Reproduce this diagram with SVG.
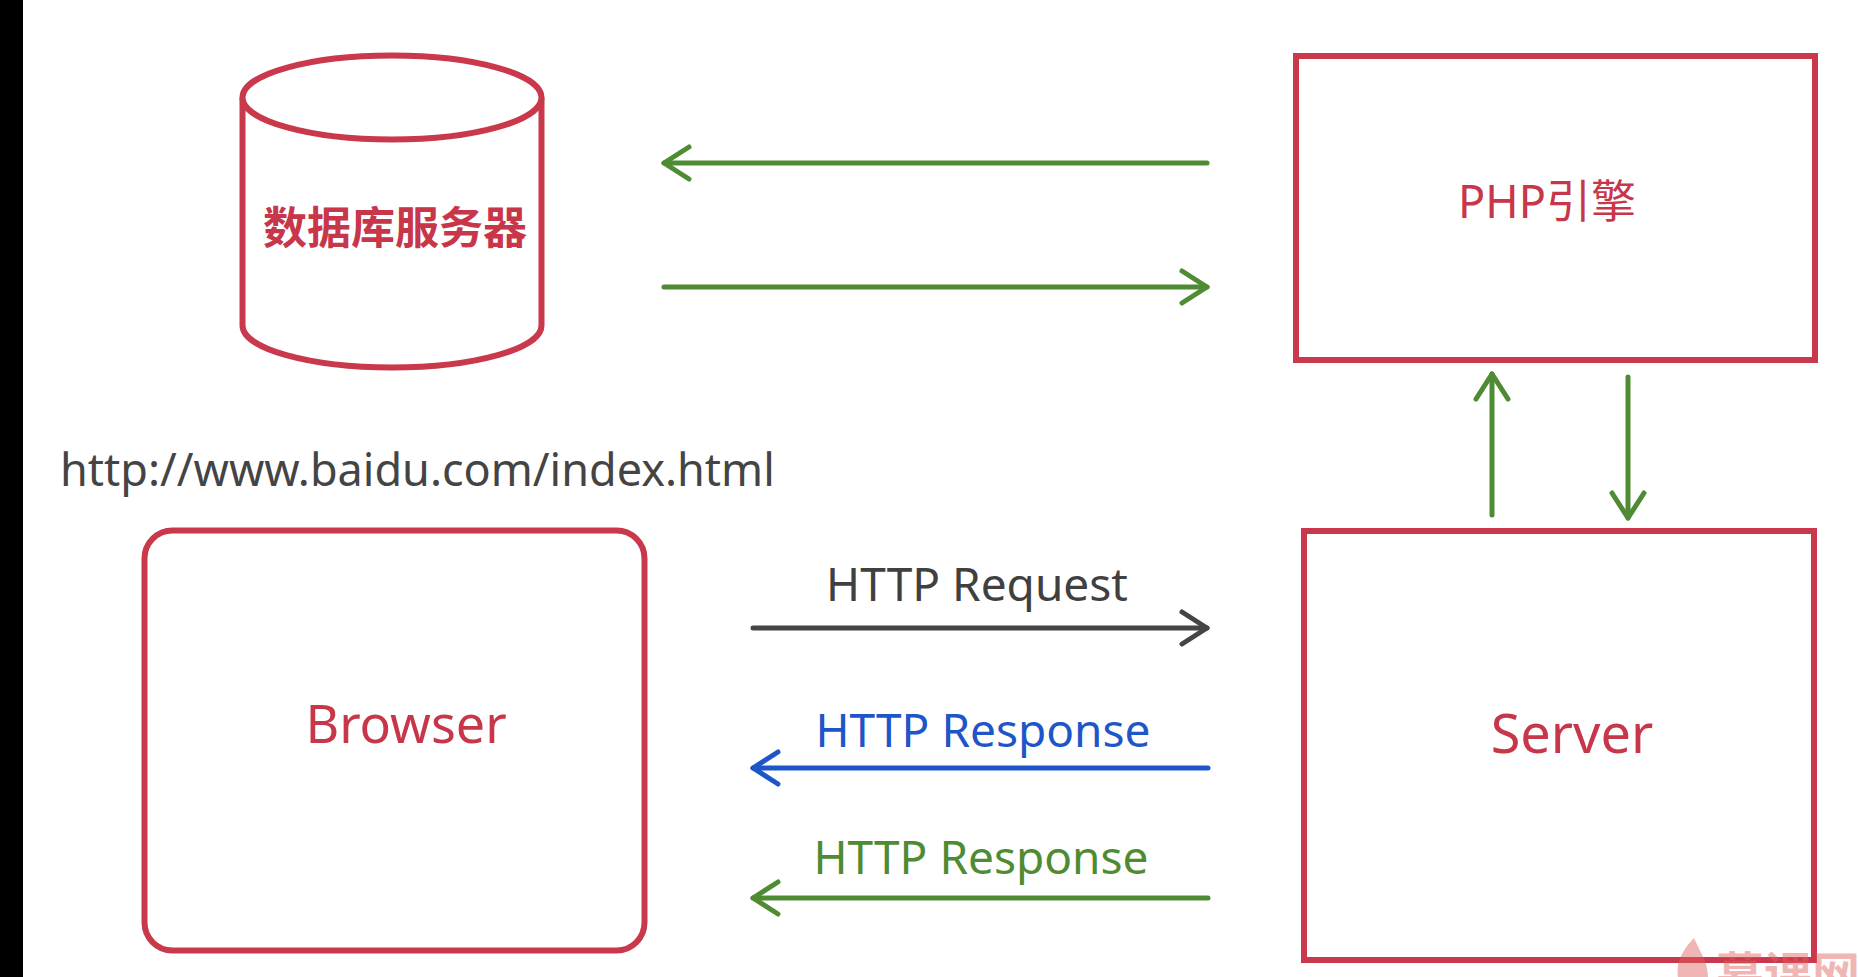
<svg xmlns="http://www.w3.org/2000/svg" width="1858" height="977" viewBox="0 0 1858 977">
  <style>
    .node { fill: #ffffff; stroke: #C9384B; stroke-width: 6; }
    .lbl { font-family: "Noto Sans", "Noto Sans CJK SC", sans-serif; }
    .red { fill: #C8364A; }
    .line { fill: none; stroke-width: 5; stroke-linecap: round; }
    .g { stroke: #4E8B32; }
    .b { stroke: #1E56C8; }
    .k { stroke: #454545; }
  </style>
  <defs>
    <marker id="ahG" markerUnits="userSpaceOnUse" viewBox="-30 -20 34 40" refX="0" refY="0" markerWidth="34" markerHeight="40" orient="auto" overflow="visible">
      <path d="M -25 -16 L 0 0 L -25 16" fill="none" stroke="#4E8B32" stroke-width="5" stroke-linecap="round" stroke-linejoin="round"/>
    </marker>
    <marker id="ahB" markerUnits="userSpaceOnUse" viewBox="-30 -20 34 40" refX="0" refY="0" markerWidth="34" markerHeight="40" orient="auto" overflow="visible">
      <path d="M -25 -16 L 0 0 L -25 16" fill="none" stroke="#1E56C8" stroke-width="5" stroke-linecap="round" stroke-linejoin="round"/>
    </marker>
    <marker id="ahK" markerUnits="userSpaceOnUse" viewBox="-30 -20 34 40" refX="0" refY="0" markerWidth="34" markerHeight="40" orient="auto" overflow="visible">
      <path d="M -25 -16 L 0 0 L -25 16" fill="none" stroke="#454545" stroke-width="5" stroke-linecap="round" stroke-linejoin="round"/>
    </marker>
  </defs>

  <rect x="0" y="0" width="1858" height="977" fill="#ffffff"/>
  <rect x="0" y="0" width="23" height="977" fill="#000000"/>

  <g id="db">
    <path class="node" d="M 242.5 97.5 L 242.5 325.5 A 149.5 42 0 0 0 541.5 325.5 L 541.5 97.5"/>
    <ellipse class="node" cx="392" cy="97.5" rx="149.5" ry="42"/>
    <text class="lbl red" x="395" y="244" font-size="44" font-weight="bold" text-anchor="middle">数据库服务器</text>
  </g>

  <g id="php">
    <rect class="node" x="1296" y="56" width="519" height="304"/>
    <text class="lbl red" x="1547" y="218" font-size="45" text-anchor="middle">PHP引擎</text>
  </g>

  <g id="url">
    <text class="lbl" x="60" y="486" font-size="45" fill="#444444">http://www.baidu.com/index.html</text>
  </g>

  <g id="browser">
    <rect class="node" x="144.5" y="530.5" width="500" height="420" rx="28" ry="28" stroke-width="5"/>
    <text class="lbl red" x="406" y="743" font-size="52" text-anchor="middle">Browser</text>
  </g>

  <g id="server">
    <rect class="node" x="1304" y="531" width="510" height="429"/>
    <text class="lbl red" x="1572" y="753" font-size="54" text-anchor="middle">Server</text>
  </g>

  <g id="connectors">
    <line class="line g" x1="1207" y1="163" x2="664" y2="163" marker-end="url(#ahG)"/>
    <line class="line g" x1="664" y1="287" x2="1207" y2="287" marker-end="url(#ahG)"/>
    <line class="line g" x1="1492" y1="515" x2="1492" y2="374" marker-end="url(#ahG)"/>
    <line class="line g" x1="1628" y1="377" x2="1628" y2="518" marker-end="url(#ahG)"/>
    <line class="line k" x1="753" y1="628" x2="1207" y2="628" marker-end="url(#ahK)"/>
    <line class="line b" x1="1208" y1="768" x2="753" y2="768" marker-end="url(#ahB)"/>
    <line class="line g" x1="1208" y1="898" x2="753" y2="898" marker-end="url(#ahG)"/>
    <text class="lbl" x="977" y="601" font-size="46" fill="#404040" text-anchor="middle">HTTP Request</text>
    <text class="lbl" x="983" y="747" font-size="46" fill="#1E55C8" text-anchor="middle">HTTP Response</text>
    <text class="lbl" x="981" y="874" font-size="46" fill="#4E8B32" text-anchor="middle">HTTP Response</text>
  </g>

  <g id="watermark" opacity="0.45">
    <path d="M 1694 938 C 1680 952 1676 966 1678 977 L 1708 977 C 1708 962 1700 952 1694 938 Z" fill="#E06060"/>
    <text class="lbl" x="1716" y="992" font-size="48" font-weight="bold" fill="#E06060">慕课网</text>
  </g>
</svg>
